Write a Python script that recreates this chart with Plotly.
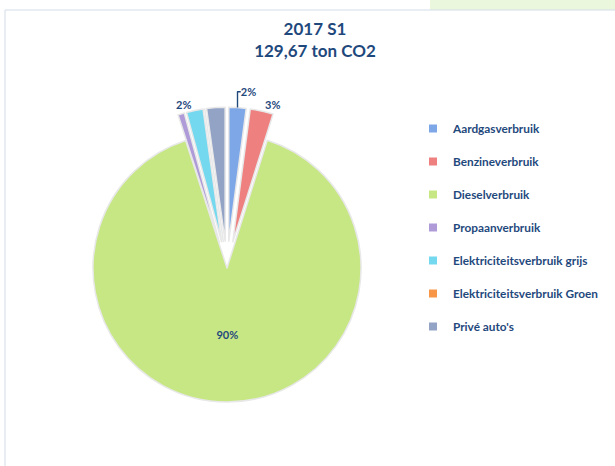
import plotly.graph_objects as go

# ---- data ----
categories = [
    "Aardgasverbruik",
    "Benzineverbruik",
    "Dieselverbruik",
    "Propaanverbruik",
    "Elektriciteitsverbruik grijs",
    "Elektriciteitsverbruik Groen",
    "Privé auto's",
]
emissions_ton = [2.7, 3.6, 116.9, 1.0, 2.6, 0.0, 2.87]
title_lines = ["2017 S1", "129,67 ton CO2"]

# ---- styling ----
colors = ["#7EA7E8", "#EF8080", "#C6E784", "#AE9BD8", "#74D8EF", "#F79646", "#93A3C6"]
pulls = [0.2, 0.2, 0.0, 0.2, 0.2, 0.2, 0.2]
show_label = [True, True, True, False, True, False, False]
label_pos = ["outside", "outside", "inside", "outside", "outside", "outside", "outside"]
navy = "#1F497D"
font_family = "Lato, 'Open Sans', sans-serif"

W, H = 615, 466

fig = go.Figure()

fig.add_trace(go.Pie(
    labels=categories,
    values=emissions_ton,
    sort=False,
    direction="clockwise",
    rotation=0,
    pull=pulls,
    marker=dict(colors=colors, line=dict(color="#E8E8E8", width=1.5)),
    texttemplate=["%{percent:.0%}" if s else "" for s in show_label],
    textposition=label_pos,
    insidetextorientation="horizontal",
    textfont=dict(family=font_family, size=11, color=navy, weight="bold"),
    showlegend=False,
    hoverinfo="label+value+percent",
    domain=dict(x=[66.2 / W, 387.8 / W], y=[1 - 428.8 / H, 1 - 107.2 / H]),
))

# legend entries (one per category)
for cat, col in zip(categories, colors):
    fig.add_trace(go.Scatter(
        x=[None], y=[None], mode="markers", name=cat, legendgroup=cat,
        marker=dict(symbol="square", size=8, color=col),
        hoverinfo="skip",
    ))

fig.update_layout(
    width=W, height=H,
    margin=dict(l=0, r=0, t=0, b=0),
    paper_bgcolor="white",
    plot_bgcolor="rgba(0,0,0,0)",
    xaxis=dict(visible=False),
    yaxis=dict(visible=False),
    title=dict(
        text="<br>".join(title_lines),
        x=315 / W, xanchor="center",
        y=1 - 35 / H, yanchor="top",
        font=dict(family=font_family, size=17, color=navy, weight="bold"),
    ),
    legend=dict(
        x=413 / W, xanchor="left",
        y=1 - 114 / H, yanchor="top",
        tracegroupgap=14,
        font=dict(family=font_family, size=11.8, color=navy, weight="bold"),
        bgcolor="rgba(0,0,0,0)",
    ),
    shapes=[
        dict(type="rect", xref="paper", yref="paper",
             x0=430 / W, x1=1.0, y0=1 - 10 / H, y1=1.0,
             fillcolor="#EAF7DD", line=dict(width=0), layer="below"),
        dict(type="rect", xref="paper", yref="paper",
             x0=5 / W, x1=1.01, y0=-0.01, y1=1 - 10 / H,
             fillcolor="white", line=dict(color="#D3DDE8", width=1), layer="below"),
    ],
)

fig.write_html("out.html", config={"displayModeBar": False},
               post_script="document.body.style.margin='0';")
